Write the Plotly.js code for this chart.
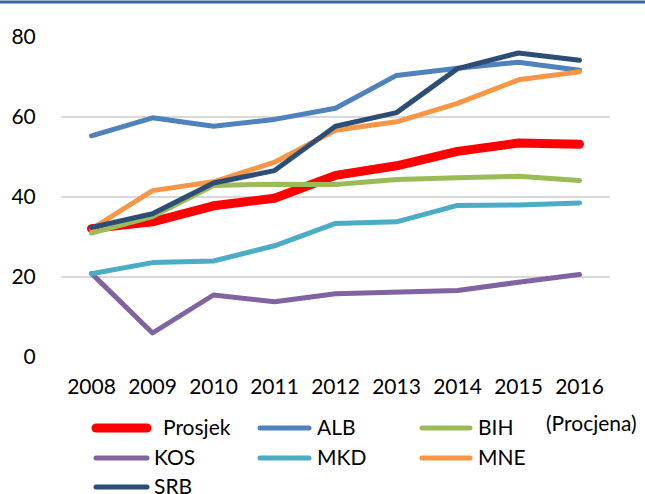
<!DOCTYPE html>
<html>
<head>
<meta charset="utf-8">
<script src="https://cdn.plot.ly/plotly-3.0.1.min.js"></script>
<style>
  body { margin: 0; background: #fff; }
  #chart { width: 645px; height: 494px; }
  .scatterlayer path.js-line { stroke-linecap: round; stroke-linejoin: round; }
  .shapelayer path { stroke-linecap: round; }
</style>
</head>
<body>
<div id="chart"></div>
<script>
// godine i vrijednosti po zemljama
const years = ['2008', '2009', '2010', '2011', '2012', '2013', '2014', '2015', '2016'];
const prosjek = [32.1, 33.8, 37.8, 39.7, 45.4, 47.8, 51.4, 53.5, 53.2];
const alb = [55.3, 59.8, 57.7, 59.4, 62.2, 70.4, 72.2, 73.7, 71.7];
const bih = [31.0, 35.1, 42.9, 43.2, 43.1, 44.4, 44.8, 45.2, 44.1];
const kos = [20.9, 6.0, 15.5, 13.8, 15.8, 16.1, 16.6, 18.7, 20.6];
const mkd = [20.8, 23.6, 24.0, 27.8, 33.4, 33.8, 37.9, 38.0, 38.5];
const mne = [32.0, 41.6, 43.8, 48.7, 56.7, 58.8, 63.4, 69.3, 71.3];
const srb = [32.4, 35.8, 43.5, 46.6, 57.7, 61.1, 72.1, 76.0, 74.2];

const names = ['Prosjek', 'ALB', 'BIH', 'KOS', 'MKD', 'MNE', 'SRB'];
const values = [prosjek, alb, bih, kos, mkd, mne, srb];
const colors = ['#FF0000', '#4F81BD', '#9BBB59', '#8064A2', '#4BACC6', '#F79646', '#2C4D75'];
const widths = [9, 5, 5, 5, 5, 5, 5];

const traces = names.map((n, i) => ({
  x: years,
  y: values[i],
  type: 'scatter',
  mode: 'lines',
  name: n,
  line: { color: colors[i], width: widths[i] },
  hoverinfo: 'x+y+name'
}));

// plot area in pixels: x 61..610, y 37..357
const L = 61, R = 610, T = 37, B = 357;
const px = v => (v - L) / (R - L);
const py = v => (B - v) / (B - T);

// legenda: 3 stupca (pocetak linije, kraj linije, tekst)
const colX = [[96, 147, 152], [260, 309, 315], [422, 470, 476]];
const rowY = [428, 458, 487];
const shapes = [{
  type: 'line', xref: 'paper', yref: 'paper',
  x0: px(0), x1: px(645), y0: py(2), y1: py(2),
  line: { color: '#3B6499', width: 3 }
}];
const annotations = [];
names.forEach((n, i) => {
  const c = colX[i % 3], r = rowY[Math.floor(i / 3)];
  shapes.push({
    type: 'line', xref: 'paper', yref: 'paper',
    x0: px(c[0]), x1: px(c[1]), y0: py(r), y1: py(r),
    line: { color: colors[i], width: i === 0 ? 9 : 5 }
  });
  annotations.push({
    xref: 'paper', yref: 'paper', x: px(i === 0 ? 161 : c[2]), y: py(r - 2),
    xanchor: 'left', yanchor: 'middle', showarrow: false,
    text: n
  });
});
annotations.push({
  xref: 'paper', yref: 'paper', x: px(544), y: py(422),
  xanchor: 'left', yanchor: 'middle', showarrow: false,
  text: '(Procjena)'
});

const layout = {
  width: 645,
  height: 494,
  margin: { l: L, r: 645 - R, t: T, b: 494 - B },
  paper_bgcolor: '#fff',
  plot_bgcolor: '#fff',
  font: { family: 'Lato, "Open Sans", sans-serif', size: 21, color: '#000' },
  showlegend: false,
  xaxis: {
    type: 'category',
    range: [-0.5, 8.5],
    showgrid: false,
    zeroline: false,
    showline: false,
    ticks: 'outside',
    ticklen: 11,
    tickcolor: 'rgba(0,0,0,0)',
    fixedrange: true
  },
  yaxis: {
    range: [0, 80],
    tickvals: [0, 20, 40, 60, 80],
    showgrid: true,
    gridcolor: '#D9D9D9',
    gridwidth: 1.5,
    zeroline: false,
    showline: false,
    ticks: 'outside',
    ticklen: 20,
    tickcolor: 'rgba(0,0,0,0)',
    fixedrange: true
  },
  shapes: shapes,
  annotations: annotations
};

Plotly.newPlot('chart', traces, layout, { displayModeBar: false, staticPlot: true });
</script>
</body>
</html>
